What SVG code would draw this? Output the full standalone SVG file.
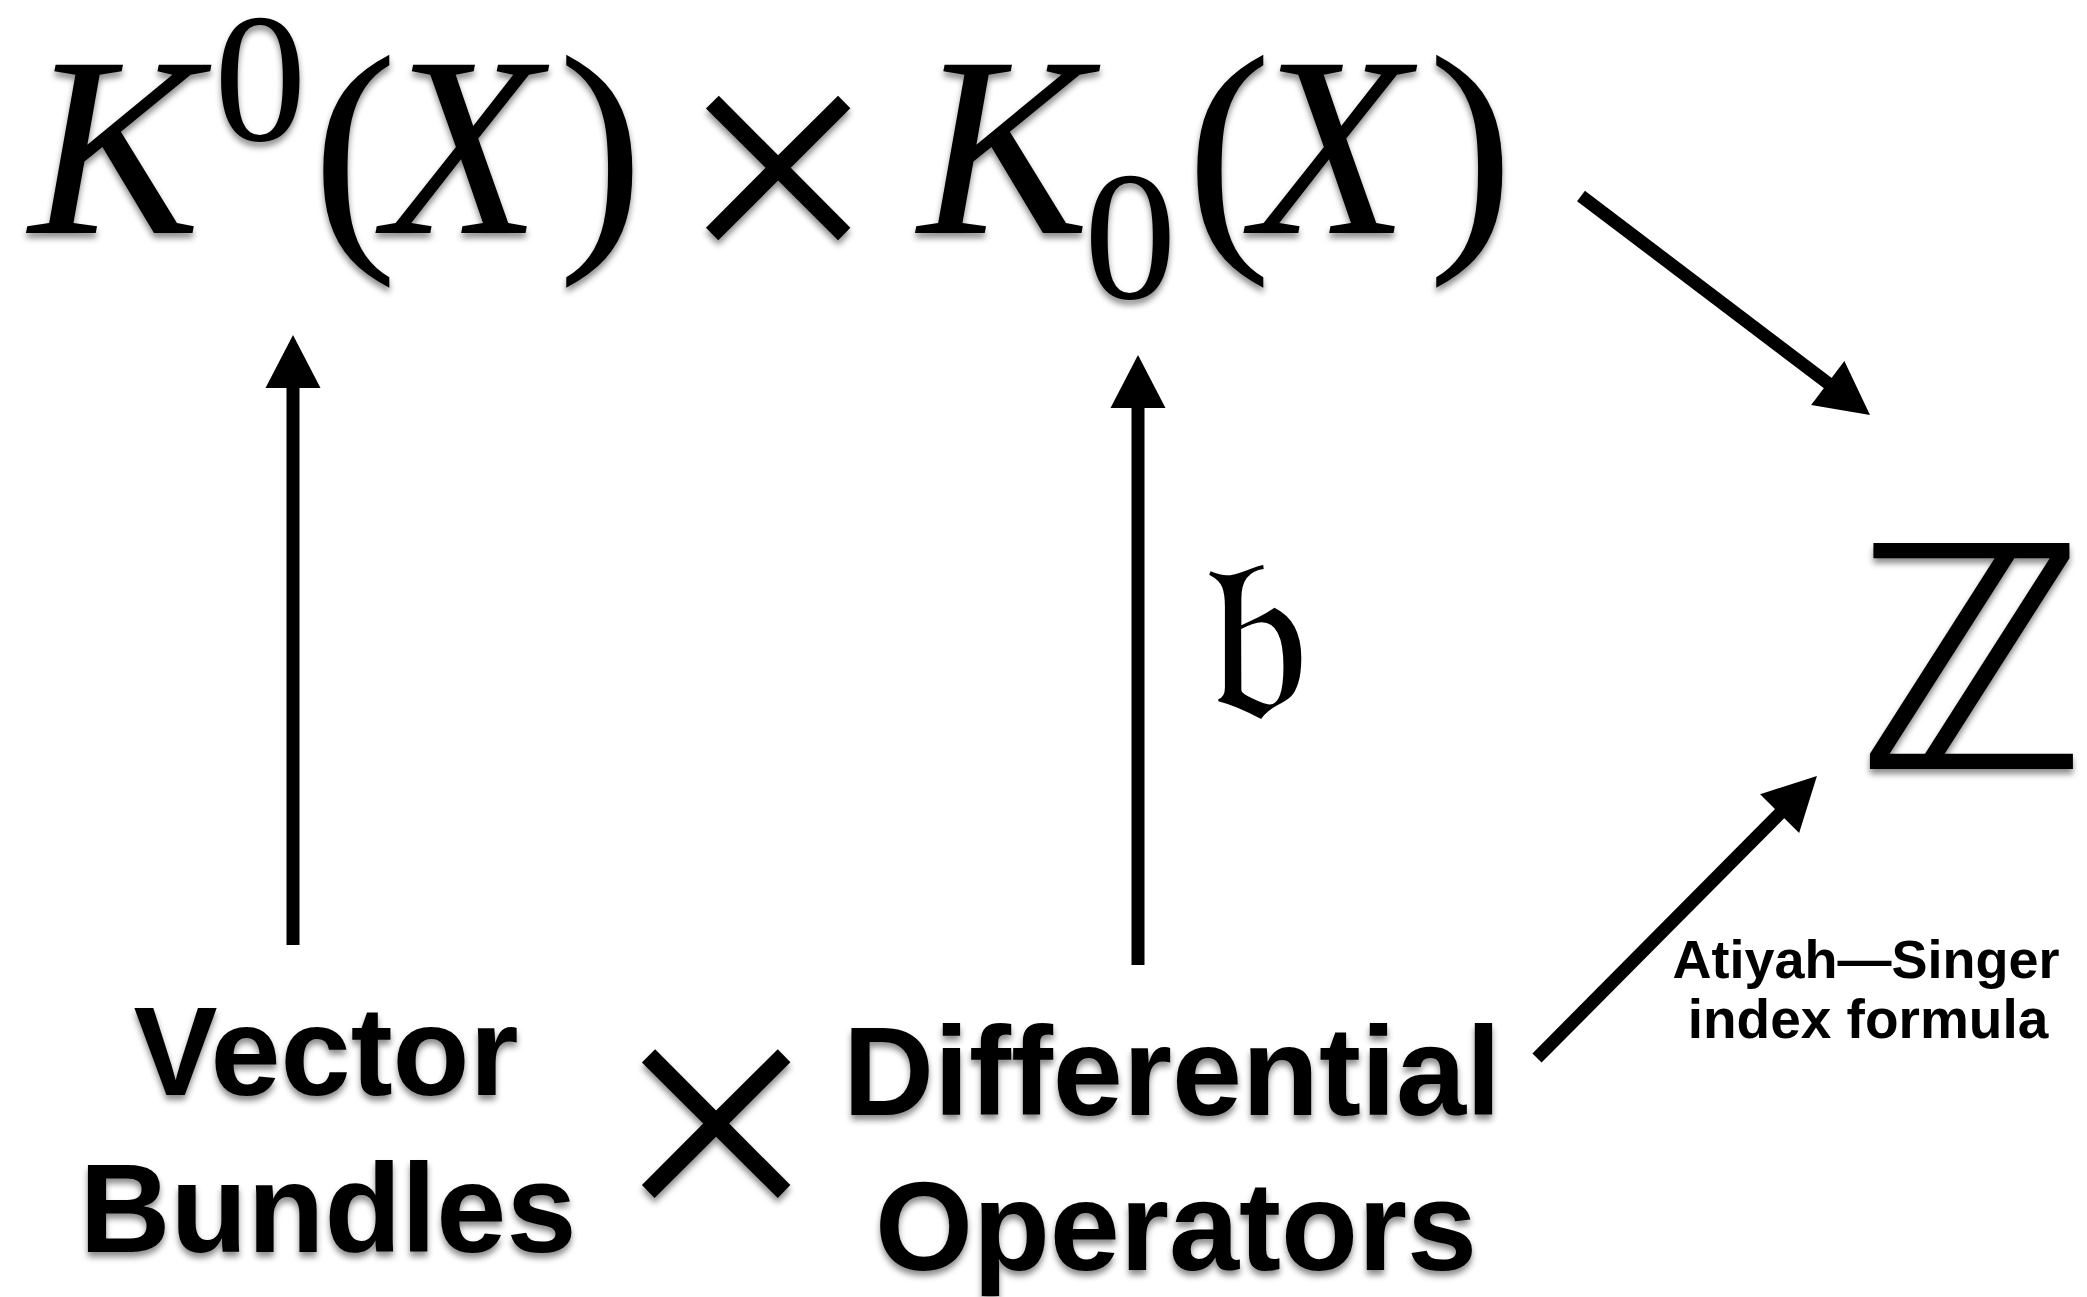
<svg xmlns="http://www.w3.org/2000/svg" width="2087" height="1297" viewBox="0 0 2087 1297">
<defs>
<style>
.m{font-family:"Liberation Serif","DejaVu Serif",serif;fill:#000}
.mi{font-style:italic}
.b{font-family:"Liberation Sans",Arial,sans-serif;font-weight:bold;fill:#000;text-anchor:middle}
.c{stroke:#000;stroke-width:13;fill:none}
</style>
<marker id="ah" markerUnits="userSpaceOnUse" markerWidth="60" markerHeight="60" viewBox="0 -30 55 60" refX="20" refY="0" orient="auto">
<path d="M0,-27.5 L53,0 L0,27.5 z" fill="#000"/>
</marker>
<filter id="sh" filterUnits="userSpaceOnUse" x="0" y="0" width="2087" height="1297">
<feDropShadow dx="0" dy="5" stdDeviation="3" flood-color="#000" flood-opacity="0.45"/>
</filter>
</defs>
<rect width="2087" height="1297" fill="#fff"/>
<g id="node-k" filter="url(#sh)">
<text class="m mi" x="29" y="233" font-size="257">K</text>
<text class="m" x="214" y="140" font-size="185">0</text>
<text class="m" x="312" y="233" font-size="257">(</text>
<text class="m mi" x="384" y="233" font-size="257">X</text>
<text class="m" x="558" y="233" font-size="257">)</text>
<text class="m" x="778" y="286" font-size="355" text-anchor="middle">×</text>
<text class="m mi" x="918" y="233" font-size="257">K</text>
<text class="m" x="1084" y="298" font-size="185">0</text>
<text class="m" x="1186" y="233" font-size="257">(</text>
<text class="m mi" x="1252" y="233" font-size="257">X</text>
<text class="m" x="1428" y="233" font-size="257">)</text>
</g>
<g id="node-z" filter="url(#sh)">
<text x="1856" y="769" font-family="DejaVu Sans,sans-serif" font-size="310">ℤ</text>
</g>
<g id="node-vb" filter="url(#sh)">
<text class="b" x="326" y="1095" font-size="126">Vector</text>
<text class="b" x="328" y="1252" font-size="126">Bundles</text>
</g>
<g id="node-times" filter="url(#sh)">
<text class="m" x="716" y="1245" font-size="365" text-anchor="middle">×</text>
</g>
<g id="node-do" filter="url(#sh)">
<text class="b" x="1172" y="1115" font-size="126">Differential</text>
<text class="b" x="1176" y="1270" font-size="126">Operators</text>
</g>
<g id="connectors">
<line class="c" x1="293" y1="945" x2="293" y2="368" marker-end="url(#ah)"/>
<line class="c" x1="1138" y1="965" x2="1138" y2="388" marker-end="url(#ah)"/>
<line class="c" x1="1581" y1="196" x2="1843.7" y2="395.1" marker-end="url(#ah)"/>
<line class="c" x1="1537" y1="1058" x2="1793.7" y2="799.4" marker-end="url(#ah)"/>
</g>
<g id="label-b">
<text x="1204" y="717" font-family="DejaVu Sans,DejaVu Serif,Noto Sans,serif" font-size="235">𝔟</text>
</g>
<g id="label-as">
<text class="b" x="1866" y="978" font-size="54">Atiyah—Singer</text>
<text class="b" x="1868" y="1038" font-size="55">index formula</text>
</g>
</svg>
